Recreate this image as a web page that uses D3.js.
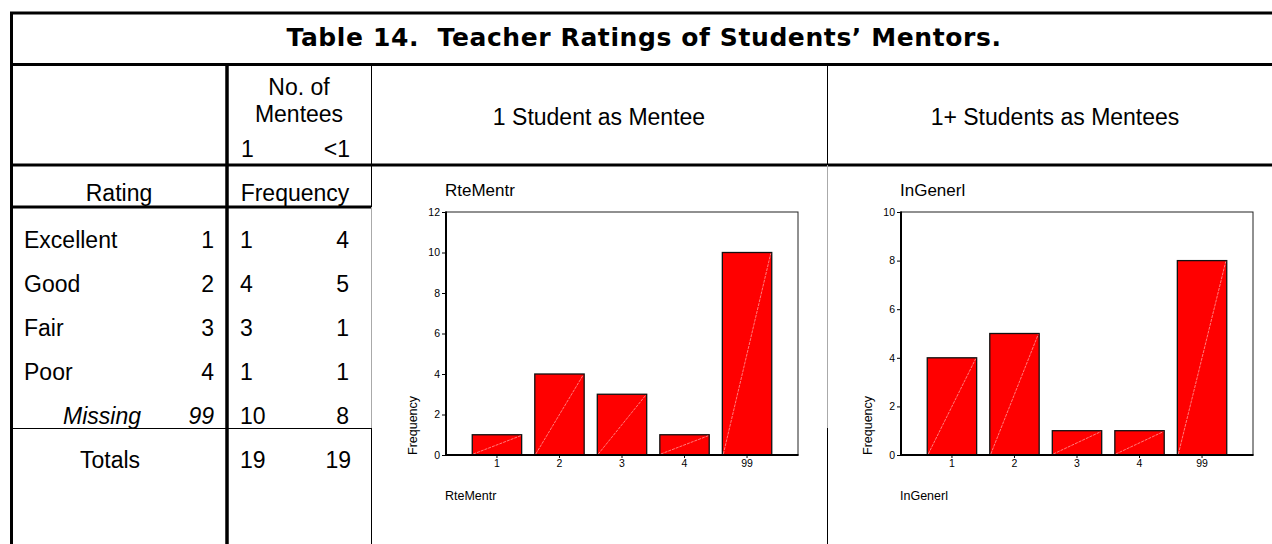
<!DOCTYPE html>
<html>
<head>
<meta charset="utf-8">
<script src="https://cdn.jsdelivr.net/npm/d3@7"></script>
<style>
body { margin: 0; background: #fff; }
text { font-family: "Liberation Sans", Arial, sans-serif; fill: #000; }
</style>
</head>
<body>
<div id="chart"></div>
<script>
const ratingLabels = ["Excellent", "Good", "Fair", "Poor", "Missing"];
const ratingCodes = ["1", "2", "3", "4", "99"];
const freqOne = [1, 4, 3, 1, 10];
const freqMulti = [4, 5, 1, 1, 8];
const totals = [19, 19];
const yTicksOne = [0, 2, 4, 6, 8, 10, 12];
const yTicksMulti = [0, 2, 4, 6, 8, 10];

const width = 1272, height = 544;

const svg = d3.select("#chart")
  .append("svg")
  .attr("width", width)
  .attr("height", height);

function line(x1, y1, x2, y2, w, color) {
  svg.append("line")
    .attr("x1", x1).attr("y1", y1)
    .attr("x2", x2).attr("y2", y2)
    .attr("stroke", color || "#000")
    .attr("stroke-width", w);
}

// table rules
line(10, 13, width, 13, 3);
line(10, 64.5, width, 64.5, 3);
line(10, 165, width, 165, 3);
line(10, 207, 371, 207, 3);
line(11.5, 12, 11.5, height, 3);
line(227, 64, 227, height, 3.5);
line(11, 428.5, 371, 428.5, 1);

line(371.5, 64, 371.5, 207, 1);
line(371.5, 207, 371.5, 428, 1, "#aaa");
line(371.5, 428, 371.5, height, 1);
line(827.5, 64, 827.5, 165, 1);
line(827.5, 165, 827.5, 428, 1, "#aaa");
line(827.5, 428, 827.5, height, 1);

// title
svg.append("text")
  .attr("x", 644)
  .attr("y", 46)
  .attr("text-anchor", "middle")
  .style("font-family", "'DejaVu Sans', Verdana, sans-serif")
  .style("font-weight", "bold")
  .style("font-size", "25px")
  .style("letter-spacing", "0.6px")
  .style("white-space", "pre")
  .text("Table 14.  Teacher Ratings of Students\u2019 Mentors.");

function label(x, y, txt, anchor, italic) {
  svg.append("text")
    .attr("x", x).attr("y", y)
    .attr("text-anchor", anchor || "start")
    .style("font-size", "23px")
    .style("font-style", italic ? "italic" : "normal")
    .text(txt);
}

// headers
label(299, 95, "No. of", "middle");
label(299, 122, "Mentees", "middle");
label(241, 157, "1");
label(350, 157, "<1", "end");
label(599, 125, "1 Student as Mentee", "middle");
label(1055, 125, "1+ Students as Mentees", "middle");
label(119, 201, "Rating", "middle");
label(295, 201, "Frequency", "middle");

// rows
const rowY = d3.scaleLinear().domain([0, 1]).range([248, 292]);
ratingLabels.forEach((r, i) => {
  const missing = r === "Missing";
  label(missing ? 63 : 24, rowY(i), r, "start", missing);
  label(214, rowY(i), ratingCodes[i], "end", missing);
  label(240, rowY(i), freqOne[i]);
  label(349, rowY(i), freqMulti[i], "end");
});
label(110, rowY(5), "Totals", "middle");
label(240, rowY(5), totals[0]);
label(351, rowY(5), totals[1], "end");

// bar charts
function drawChart(left, values, ticks, name) {
  const plotLeft = left + 75,
    plotRight = plotLeft + 352,
    top = 212,
    bottom = 455;

  const x = d3.scaleBand()
    .domain(ratingCodes)
    .range([plotLeft, plotRight])
    .paddingInner(0.21)
    .paddingOuter(0.42);

  const y = d3.scaleLinear()
    .domain([0, d3.max(ticks)])
    .range([bottom, top]);

  const g = svg.append("g");

  // frame
  g.append("rect")
    .attr("x", plotLeft).attr("y", top)
    .attr("width", plotRight - plotLeft)
    .attr("height", bottom - top)
    .attr("fill", "none")
    .attr("stroke", "#222")
    .attr("stroke-width", 1);

  const data = ratingCodes.map((c, i) => ({ code: c, value: values[i] }));

  g.selectAll(".bar")
    .data(data)
    .join("rect")
    .attr("class", "bar")
    .attr("x", d => x(d.code))
    .attr("y", d => y(d.value))
    .attr("width", x.bandwidth())
    .attr("height", d => bottom - y(d.value))
    .attr("fill", "#ff0000")
    .attr("stroke", "#111")
    .attr("stroke-width", 1.3);

  g.selectAll(".diag")
    .data(data)
    .join("line")
    .attr("class", "diag")
    .attr("x1", d => x(d.code) + 1)
    .attr("y1", bottom - 1)
    .attr("x2", d => x(d.code) + x.bandwidth() - 1)
    .attr("y2", d => y(d.value) + 1)
    .attr("stroke", "#ff9c9c")
    .attr("stroke-width", 0.8)
    .attr("stroke-dasharray", "3,1");

  const yAxis = g.append("g")
    .attr("transform", `translate(${plotLeft},0)`)
    .call(d3.axisLeft(y).tickValues(ticks).tickSize(4).tickPadding(2));
  yAxis.select(".domain").remove();

  const xAxis = g.append("g")
    .attr("transform", `translate(0,${bottom})`)
    .call(d3.axisBottom(x).tickSize(3).tickPadding(2));
  xAxis.select(".domain").remove();

  g.selectAll(".tick text")
    .style("font-family", "'Liberation Sans', Arial, sans-serif")
    .style("font-size", "10.5px")
    .attr("fill", "#222");

  // heavier left and bottom axis lines
  line(plotLeft, top - 0.5, plotLeft, bottom + 1, 2);
  line(plotLeft - 1, bottom, plotRight + 0.5, bottom, 2);

  g.append("text")
    .attr("x", plotLeft - 1)
    .attr("y", 196)
    .style("font-size", "17px")
    .text(name);

  g.append("text")
    .attr("x", plotLeft - 1)
    .attr("y", 500)
    .style("font-size", "12.5px")
    .text(name);

  g.append("text")
    .attr("transform", `translate(${plotLeft - 29},${bottom}) rotate(-90)`)
    .style("font-size", "12.5px")
    .text("Frequency");
}

drawChart(371, freqOne, yTicksOne, "RteMentr");
drawChart(826, freqMulti, yTicksMulti, "InGenerl");
</script>
</body>
</html>
